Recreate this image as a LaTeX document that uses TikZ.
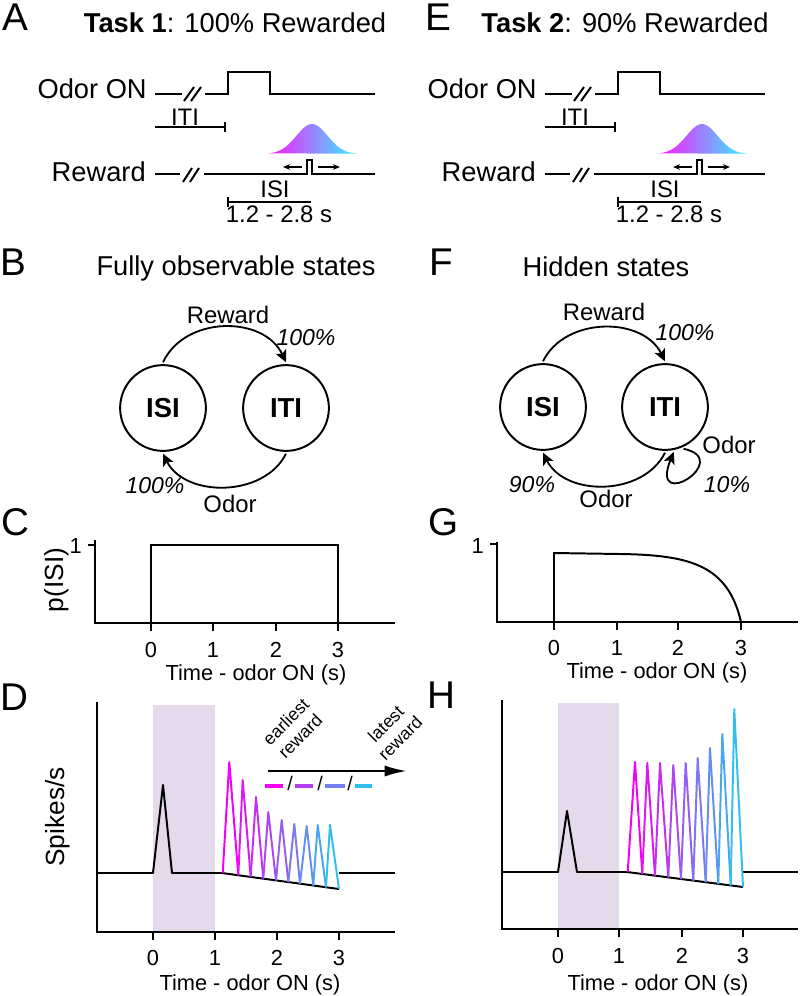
\documentclass[tikz,border=0pt]{standalone}
\usepackage{fontspec}
\setmainfont{Liberation Sans}
\usetikzlibrary{arrows.meta,positioning,calc}

\definecolor{rewmag}{RGB}{245,0,245}
\definecolor{rewcya}{RGB}{51,190,240}
\definecolor{gaumag}{RGB}{255,20,255}
\definecolor{gaucya}{RGB}{50,245,255}
\definecolor{odorbox}{RGB}{228,218,236}

\begin{document}
\begin{tikzpicture}[x=0.025cm, y=-0.025cm,
    txt/.style={inner sep=0pt},
    lett/.style={txt, font=\fontsize{27.5}{30}\selectfont},
    ttl/.style={txt, font=\fontsize{19.4}{22}\selectfont},
    sml/.style={txt, font=\fontsize{17}{20}\selectfont},
    pct/.style={txt, font=\fontsize{16.4}{19}\selectfont\itshape},
    tck/.style={txt, font=\fontsize{15.5}{18}\selectfont},
    axl/.style={txt, font=\fontsize{18.7}{22}\selectfont},
    leg/.style={txt, font=\fontsize{12.5}{14.5}\selectfont, align=center, rotate=45},
    state/.style={draw, circle, line width=1.4pt, minimum size=61pt, inner sep=0pt, outer sep=2pt, font=\fontsize{19.5}{22}\selectfont\bfseries},
    arr/.style={-{Stealth[length=8.5pt,width=8pt,inset=2pt]}, line width=1.3pt},
    tip/.style={-{Stealth[length=5pt,width=4pt]}, line width=1.1pt},
    sig/.style={line width=1.4pt},
    bar/.style={line width=1pt},
    axis/.style={line width=1.5pt},
    zz/.style={line width=1.4pt, line join=round}
]
\useasboundingbox (0,0) rectangle (800,996);

% panel letters
\foreach \lett/\lx/\ly in {A/2/30, E/425/30, B/0/275, F/429/275, C/1/535, G/428/535, D/0/710, H/427/708}
  \node[lett, anchor=base west] (lab\lett) at (\lx,\ly) {\lett};

% task timelines
\foreach \dx/\lett/\tnum/\pct in {0/A/1/100, 390/E/2/90} {
\begin{scope}[shift={(\dx,0)}]
\node[ttl, anchor=base] (task\lett) at (235,32) {\textbf{Task \tnum}: \pct\% Rewarded};
\node[ttl, anchor=base east] (odor\lett) at (147,98) {Odor ON};
\node[ttl, anchor=base east] (rew\lett) at (146,181) {Reward};
\draw[sig] (155,94) -- (182,94);
\draw[sig] (184,101) -- (194,87) (191,101) -- (201,87);
\draw[sig] (205,94) -- (228,94) -- (228,72) -- (270,72) -- (270,94) -- (375,94);
\draw[bar] (155,127) -- (225,127) (225,122) -- (225,132);
\node[sml, anchor=base] (iti\lett) at (185,125) {ITI};
\shade[left color=gaumag, right color=gaucya] plot[domain=268:357, samples=50] (\x, {154-30*exp(-((\x-312)/22)*((\x-312)/22))}) -- cycle;
\draw[sig] (155,174) -- (180,174);
\draw[sig] (183,182) -- (192,168) (190,182) -- (199,168);
\draw[sig] (204,174) -- (307,174) -- (307,160) -- (312,160) -- (312,174) -- (375,174);
\draw[tip] (302,167) -- (283,167);
\draw[tip] (318,167) -- (340,167);
\node[sml, anchor=base] (isi\lett) at (275,197) {ISI};
\draw[bar] (228,202) -- (311,202) (228,197) -- (228,207);
\node[sml, anchor=base] (dur\lett) at (279,222) {1.2 - 2.8 s};
\end{scope}
}

% state diagrams
\node[ttl, anchor=base] (ttlB) at (236,275) {Fully observable states};
\node[state] (isiB) at (163,408) {ISI};
\node[state] (itiB) at (286,408) {ITI};
\draw[arr] (isiB.north) .. controls +(22,-47) and +(-22,-47) .. (itiB.north);
\draw[arr] (itiB.south) .. controls +(-22,44) and +(22,44) .. (isiB.south);
\node[sml, anchor=base] (rewB) at (228,323) {Reward};
\node[pct, anchor=base] (pRewB) at (306,345) {100\%};
\node[pct, anchor=base] (pOdorB) at (155,493) {100\%};
\node[sml, anchor=base] (odorB) at (230,512) {Odor};

\node[ttl, anchor=base] (ttlF) at (606,276) {Hidden states};
\node[state] (isiF) at (543,407) {ISI};
\node[state] (itiF) at (665,407) {ITI};
\draw[arr] (isiF.north) .. controls +(22,-45) and +(-22,-45) .. (itiF.north);
\draw[arr] (itiF.south) .. controls +(-22,44) and +(22,44) .. (isiF.south);
\draw[arr] (itiF.-66) .. controls +(51,11) and +(-25,62) .. (itiF.-79);
\node[sml, anchor=base] (rewF) at (604,320) {Reward};
\node[pct, anchor=base] (pRewF) at (685,340) {100\%};
\node[pct, anchor=base] (pOdorF) at (532,492) {90\%};
\node[sml, anchor=base] (odorF) at (606,507) {Odor};
\node[sml, anchor=base] (odorLoop) at (729,453) {Odor};
\node[pct, anchor=base] (pLoop) at (727,492) {10\%};

% p(ISI)
\draw[axis] (95,540) -- (95,623) -- (395,623);
\draw[axis] (88,545) -- (95,545);
\node[tck, anchor=base east] (oneC) at (82,553) {1};
\node[axl, rotate=90, anchor=base] (pisi) at (63,580) {p(ISI)};
\foreach \tv/\xt in {0/151, 1/213, 2/276, 3/338} {
  \draw[axis] (\xt,623) -- (\xt,631);
  \node[tck, anchor=base] (tickC\tv) at (\xt,657) {\tv};
}
\node[tck, anchor=base] (timeC) at (256,680) {Time - odor ON (s)};
\draw[sig] (151,623) -- (151,545) -- (338,545) -- (338,623);

\draw[axis] (497,542) -- (497,622) -- (798,622);
\draw[axis] (490,544) -- (497,544);
\node[tck, anchor=base east] (oneG) at (484,553) {1};
\foreach \tv/\xt in {0/554, 1/617, 2/678, 3/741} {
  \draw[axis] (\xt,622) -- (\xt,630);
  \node[tck, anchor=base] (tickG\tv) at (\xt,655) {\tv};
}
\node[tck, anchor=base] (timeG) at (657,678) {Time - odor ON (s)};
\draw[sig] (554,622) -- (554,553) -- (620,554) .. controls (690,555) and (728,565) .. (741,622);

% firing rates
\fill[odorbox] (153,705) rectangle (215,932);
\draw[axis] (97,702) -- (97,932) -- (395,932);
\foreach \tv/\xt in {0/153, 1/215, 2/277, 3/339} {
  \draw[axis] (\xt,932) -- (\xt,940);
  \node[tck, anchor=base] (tickD\tv) at (\xt,965) {\tv};
}
\node[tck, anchor=base] (timeD) at (250,990) {Time - odor ON (s)};
\node[axl, rotate=90, anchor=base] (spk) at (64,817) {Spikes/s};
\draw[zz] (97,873) -- (153,873) -- (163,785) -- (172,873) -- (222,873) -- (339,889);
\draw[zz] (339,873) -- (395,873);
\foreach \va/\px/\py/\vb [count=\i from 0] in {222.7/229.3/762/238.3, 238.3/242.7/780/250.7, 250.7/256/797/263.3, 263.3/268.3/812/276, 276/281.7/820/288.3, 288.3/294.3/824/300, 300/306.7/826/313.3, 313.3/317.7/825/326, 326/330/825/339} {
  \pgfmathsetmacro\cc{100-12.5*\i}
  \draw[zz, rewmag!\cc!rewcya] (\va,{873+(\va-222)*0.1368}) -- (\px,\py) -- (\vb,{873+(\vb-222)*0.1368});
}
\coordinate (legL) at (268,771);
\coordinate (legR) at (407,771);
\draw[-{Latex[length=16pt,width=8pt]}, line width=1.8pt] (legL) -- (legR);
\node[leg] (early) at (293,729) {earliest\\reward};
\node[leg] (late) at (393,731) {latest\\reward};
\foreach \xa/\xb/\cc in {265/283/100, 295/313/67, 325/345/33, 355/372/0}
  \draw[line width=3pt, rewmag!\cc!rewcya] (\xa,786) -- (\xb,786);
\foreach \xs [count=\k] in {290,320,350}
  \node[txt, font=\fontsize{14}{16}\selectfont] (sl\k) at (\xs,783) {/};

\fill[odorbox] (558,703) rectangle (619,929);
\draw[axis] (502,700) -- (502,929) -- (798,929);
\foreach \tv/\xt in {0/558, 1/619, 2/682, 3/743} {
  \draw[axis] (\xt,929) -- (\xt,937);
  \node[tck, anchor=base] (tickH\tv) at (\xt,963) {\tv};
}
\node[tck, anchor=base] (timeH) at (658,990) {Time - odor ON (s)};
\draw[zz] (502,872) -- (558,872) -- (567,811) -- (577,872) -- (627,872) -- (743,887);
\draw[zz] (743,872) -- (798,872);
\foreach \va/\px/\py/\vb [count=\i from 0] in {627.7/635/762/642.3, 642.3/647.3/763/655, 655/660/763/668.3, 668.3/673.3/765/681, 681/685.7/763/693.3, 693.3/697.7/758/705.7, 705.7/710/748/718.3, 718.3/722.3/734/730.7, 730.7/734.3/709/743} {
  \pgfmathsetmacro\cc{100-12.5*\i}
  \draw[zz, rewmag!\cc!rewcya] (\va,{872+(\va-627)*0.1293}) -- (\px,\py) -- (\vb,{872+(\vb-627)*0.1293});
}
\end{tikzpicture}
\end{document}
